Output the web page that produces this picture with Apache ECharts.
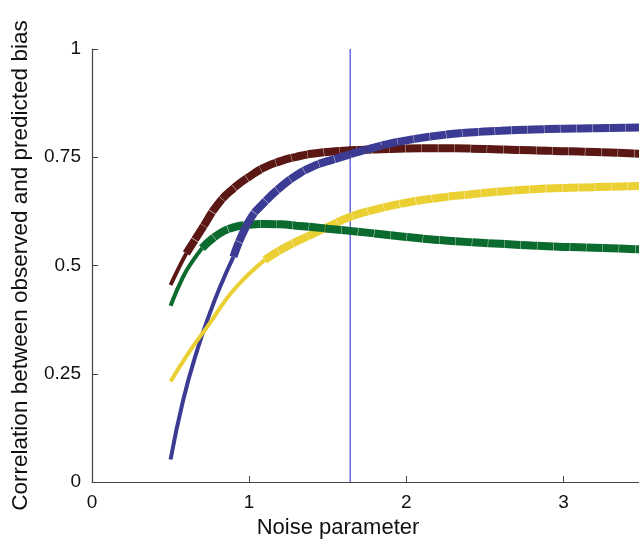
<!DOCTYPE html>
<html>
<head>
<meta charset="utf-8">
<script src="https://cdn.jsdelivr.net/npm/echarts@6/dist/echarts.min.js"></script>
<style>html,body{margin:0;padding:0;background:#fff}#chart{width:639px;height:539px}</style>
</head>
<body>
<div id="chart"></div>
<script>
// ---- data ----
const xTicks = [0, 1, 2, 3];
const yTicks = [0, 0.25, 0.5, 0.75, 1];
const thresholdX = 1.643;
const thresholdSpan = [0, 1];

const brownThinX  = [0.5, 0.55, 0.6];
const brownThinY  = [0.455, 0.493, 0.528];
const brownThickX = [0.6, 0.7, 0.8, 0.9, 1.0, 1.1, 1.2, 1.3, 1.4, 1.6, 1.8, 2.0, 2.2, 2.4, 2.6, 2.8, 3.0, 3.2, 3.5];
const brownThickY = [0.528, 0.585, 0.641, 0.678, 0.705, 0.727, 0.741, 0.751, 0.758, 0.765, 0.768, 0.770, 0.771, 0.770, 0.768, 0.766, 0.764, 0.762, 0.758];

const blueThinX  = [0.5, 0.58, 0.67, 0.75, 0.82, 0.9];
const blueThinY  = [0.052, 0.189, 0.305, 0.39, 0.455, 0.52];
const blueThickX = [0.9, 1.0, 1.1, 1.2, 1.3, 1.4, 1.5, 1.6, 1.7, 1.8, 1.9, 2.0, 2.2, 2.4, 2.6, 2.8, 3.0, 3.2, 3.5];
const blueThickY = [0.52, 0.603, 0.647, 0.681, 0.708, 0.728, 0.741, 0.752, 0.763, 0.773, 0.782, 0.789, 0.800, 0.807, 0.811, 0.814, 0.816, 0.817, 0.819];

const greenThinX  = [0.5, 0.58, 0.64, 0.7];
const greenThinY  = [0.407, 0.474, 0.51, 0.54];
const greenThickX = [0.7, 0.8, 0.9, 1.0, 1.1, 1.2, 1.3, 1.4, 1.5, 1.64, 1.8, 2.0, 2.2, 2.4, 2.6, 2.8, 3.0, 3.2, 3.5];
const greenThickY = [0.54, 0.571, 0.588, 0.594, 0.596, 0.595, 0.592, 0.589, 0.585, 0.580, 0.574, 0.566, 0.559, 0.554, 0.550, 0.546, 0.543, 0.541, 0.537];

const yellowThinX  = [0.5, 0.62, 0.75, 0.85, 0.92, 1.0, 1.1];
const yellowThinY  = [0.232, 0.301, 0.367, 0.42, 0.451, 0.481, 0.513];
const yellowThickX = [1.1, 1.2, 1.3, 1.4, 1.5, 1.64, 1.8, 2.0, 2.2, 2.4, 2.6, 2.8, 3.0, 3.2, 3.5];
const yellowThickY = [0.513, 0.536, 0.555, 0.572, 0.589, 0.612, 0.629, 0.645, 0.656, 0.664, 0.671, 0.676, 0.679, 0.681, 0.684];

const xLabel = 'Noise parameter';
const yLabel = 'Correlation between observed and predicted bias';

// ---- build chart ----
const zip = (xs, ys) => xs.map((x, i) => [x, ys[i]]);
const FONT = '"Liberation Sans", Arial, Helvetica, sans-serif';
const AXC = '#444';

function thin(name, xs, ys, color) {
  return { type: 'line', name, data: zip(xs, ys), smooth: true, symbol: 'none',
    lineStyle: { color, width: 4, cap: 'butt' }, z: 3, silent: true };
}
function thick(name, xs, ys, color) {
  return { type: 'line', name, data: zip(xs, ys), smooth: true, symbol: 'none',
    lineStyle: { color, width: 8, cap: 'butt', type: [16, 0.35] }, z: 4, silent: true };
}

const series = [
  { type: 'line', name: 'threshold', data: thresholdSpan.map(y => [thresholdX, y]),
    symbol: 'none', silent: true, z: 2,
    lineStyle: { color: '#4646d8', width: 1.2 } },
  thin('brown', brownThinX, brownThinY, '#5a1713'),
  thin('green', greenThinX, greenThinY, '#0b6a2e'),
  thin('blue', blueThinX, blueThinY, '#3b3b93'),
  thin('yellow', yellowThinX, yellowThinY, '#ebd033'),
  thick('yellow', yellowThickX, yellowThickY, '#ebd033'),
  thick('green', greenThickX, greenThickY, '#0b6a2e'),
  thick('brown', brownThickX, brownThickY, '#5a1713'),
  thick('blue', blueThickX, blueThickY, '#3b3b93'),
];

const chart = echarts.init(document.getElementById('chart'), null, { renderer: 'canvas' });
chart.setOption({
  animation: false,
  backgroundColor: '#fff',
  grid: { left: 92, top: 49, bottom: 57, right: -3, containLabel: false, outerBoundsMode: 'none' },
  xAxis: {
    type: 'value', min: 0, max: 3.5, interval: 1,
    axisLine: { show: true, lineStyle: { color: AXC, width: 1.2 } },
    axisTick: { show: true, inside: true, length: 6, lineStyle: { color: AXC } },
    splitLine: { show: false },
    axisLabel: { fontFamily: FONT, fontSize: 19, color: '#111', margin: 11,
      formatter: v => (xTicks.includes(v) ? String(v) : '') },
    name: xLabel, nameLocation: 'middle', nameGap: 34,
    nameTextStyle: { fontFamily: FONT, fontSize: 22, color: '#111', padding: [0, 58, 0, 0] }
  },
  yAxis: {
    type: 'value', min: 0, max: 1, interval: 0.25,
    axisLine: { show: true, lineStyle: { color: AXC, width: 1.2 } },
    axisTick: { show: true, inside: true, length: 6, lineStyle: { color: AXC } },
    splitLine: { show: false },
    axisLabel: { fontFamily: FONT, fontSize: 19, color: '#111', margin: 11,
      formatter: v => (yTicks.includes(v) ? String(v) : '') },
    name: yLabel, nameLocation: 'middle', nameGap: 60,
    nameTextStyle: { fontFamily: FONT, fontSize: 22.5, color: '#111' }
  },
  series
});
</script>
</body>
</html>
